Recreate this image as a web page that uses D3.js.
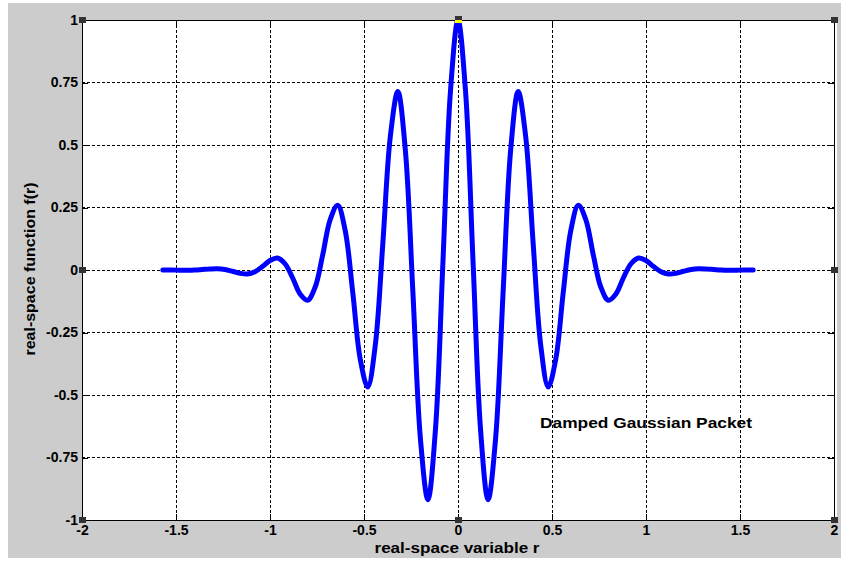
<!DOCTYPE html>
<html>
<head>
<meta charset="utf-8">
<script src="https://cdn.jsdelivr.net/npm/d3@7"></script>
<style>
  html, body { margin: 0; padding: 0; background: #ffffff; }
  svg { display: block; }
  text { font-family: "Liberation Sans", Arial, sans-serif; font-weight: bold; fill: #000; }
</style>
</head>
<body>
<svg id="chart" width="841" height="565"></svg>
<script>
// ---- data ----
const rValues = [
  -1.57, -1.56, -1.52, -1.48, -1.44, -1.40, -1.36, -1.32, -1.28, -1.24,
  -1.20, -1.16, -1.12, -1.08, -1.04, -1.00, -0.96, -0.92, -0.88, -0.84,
  -0.80, -0.76, -0.72, -0.68, -0.64, -0.60, -0.56, -0.52, -0.48, -0.44,
  -0.40, -0.36, -0.32, -0.28, -0.24, -0.20, -0.16, -0.12, -0.08, -0.04,
   0.00,
   0.04,  0.08,  0.12,  0.16,  0.20,  0.24,  0.28,  0.32,  0.36,  0.40,
   0.44,  0.48,  0.52,  0.56,  0.60,  0.64,  0.68,  0.72,  0.76,  0.80,
   0.84,  0.88,  0.92,  0.96,  1.00,  1.04,  1.08,  1.12,  1.16,  1.20,
   1.24,  1.28,  1.32,  1.36,  1.40,  1.44,  1.48,  1.52,  1.56,  1.57
];
const fValues = [
   0.000,  0.000, -0.000, -0.001, -0.001, -0.000,  0.002,  0.004,  0.005,  0.002,
  -0.005, -0.013, -0.016, -0.007,  0.014,  0.038,  0.048,  0.025, -0.031, -0.096,
  -0.121, -0.069,  0.059,  0.201,  0.259,  0.158, -0.088, -0.357, -0.468, -0.301,
   0.104,  0.534,  0.714,  0.479, -0.087, -0.674, -0.919, -0.639,  0.034,  0.716,
   1.000,
   0.716,  0.034, -0.639, -0.919, -0.674, -0.087,  0.479,  0.714,  0.534,  0.104,
  -0.301, -0.468, -0.357, -0.088,  0.158,  0.259,  0.201,  0.059, -0.069, -0.121,
  -0.096, -0.031,  0.025,  0.048,  0.038,  0.014, -0.007, -0.016, -0.013, -0.005,
   0.002,  0.005,  0.004,  0.002, -0.000, -0.001, -0.001, -0.000,  0.000,  0.000
];
const xTicks = [-2, -1.5, -1, -0.5, 0, 0.5, 1, 1.5, 2];
const xTickLabels = ["-2", "-1.5", "-1", "-0.5", "0", "0.5", "1", "1.5", "2"];
const yTicks = [-1, -0.75, -0.5, -0.25, 0, 0.25, 0.5, 0.75, 1];
const yTickLabels = ["-1", "-0.75", "-0.5", "-0.25", "0", "0.25", "0.5", "0.75", "1"];
const xLabel = "real-space variable r";
const yLabel = "real-space function f(r)";
const annotation = "Damped Gaussian Packet";

// ---- layout ----
const svg = d3.select("#chart");
const plot = { left: 82, top: 20, right: 834, bottom: 520 };

svg.append("rect").attr("x", 8).attr("y", 3).attr("width", 833).attr("height", 555)
  .attr("fill", "#cccccc");
svg.append("rect").attr("x", plot.left).attr("y", plot.top)
  .attr("width", plot.right - plot.left + 3).attr("height", plot.bottom - plot.top)
  .attr("fill", "#ffffff");

const x = d3.scaleLinear().domain([-2, 2]).range([plot.left, plot.right]);
const y = d3.scaleLinear().domain([-1, 1]).range([plot.bottom, plot.top]);

// grid
const grid = svg.append("g").attr("stroke", "#000").attr("stroke-width", 1)
  .attr("stroke-dasharray", "3,2").attr("shape-rendering", "crispEdges");
grid.selectAll("line.v").data(xTicks.slice(1, -1)).join("line")
  .attr("x1", d => x(d)).attr("x2", d => x(d)).attr("y1", plot.top).attr("y2", plot.bottom);
grid.selectAll("line.h").data(yTicks.slice(1, -1)).join("line").attr("class", "h")
  .attr("x1", plot.left).attr("x2", plot.right).attr("y1", d => y(d)).attr("y2", d => y(d));

// axes
function styleAxis(g) {
  g.selectAll("path, line").attr("stroke", "#000").attr("shape-rendering", "crispEdges");
  g.selectAll("text").attr("font-size", "14px").attr("font-family", "Liberation Sans, Arial, sans-serif")
    .attr("font-weight", "bold").attr("fill", "#000");
}
svg.append("g").attr("transform", `translate(0,${plot.bottom})`)
  .call(d3.axisBottom(x).tickValues(xTicks).tickFormat((d, i) => xTickLabels[i])
    .tickSizeInner(-6).tickSizeOuter(0).tickPadding(5))
  .call(styleAxis);
svg.append("g").attr("transform", `translate(${plot.left},0)`)
  .call(d3.axisLeft(y).tickValues(yTicks).tickFormat((d, i) => yTickLabels[i])
    .tickSizeInner(-6).tickSizeOuter(0).tickPadding(4))
  .call(styleAxis);
svg.append("g").attr("transform", `translate(0,${plot.top})`)
  .call(d3.axisTop(x).tickValues(xTicks).tickFormat("").tickSizeInner(-6).tickSizeOuter(0))
  .call(styleAxis);
svg.append("g").attr("transform", `translate(${plot.right},0)`)
  .call(d3.axisRight(y).tickValues(yTicks).tickFormat("").tickSizeInner(-6).tickSizeOuter(0))
  .call(styleAxis);

// curve
const pts = rValues.map((r, i) => [r, fValues[i]]);
svg.append("path").datum(pts)
  .attr("d", d3.line().x(d => x(d[0])).y(d => y(d[1])).curve(d3.curveCatmullRom.alpha(0.5)))
  .attr("fill", "none").attr("stroke", "#0000ff").attr("stroke-width", 5)
  .attr("stroke-linejoin", "round").attr("stroke-linecap", "round");

// selection handles
const handles = [[-2, 1], [-2, 0], [-2, -1], [0, -1], [2, -1], [2, 0], [2, 1], [0, 1]];
svg.append("rect").attr("x", x(0) - 3).attr("y", y(1)).attr("width", 7).attr("height", 3)
  .attr("fill", "#ffff00");
svg.selectAll("rect.handle").data(handles).join("rect").attr("class", "handle")
  .attr("x", d => x(d[0]) - 3).attr("y", d => y(d[1]) - 3 - (d[1] === 1 && d[0] === 0 ? 1 : 0))
  .attr("width", 7).attr("height", d => (d[1] === 1 && d[0] === 0) ? 4 : 6)
  .attr("fill", "#333333");

// labels
svg.append("text").attr("x", x(0) - 1).attr("y", 553).attr("text-anchor", "middle")
  .attr("font-size", "14px").attr("textLength", 165).attr("lengthAdjust", "spacingAndGlyphs")
  .text(xLabel);
svg.append("text").attr("transform", `translate(35,${y(0) - 1}) rotate(-90)`)
  .attr("text-anchor", "middle").attr("font-size", "14px")
  .attr("textLength", 173).attr("lengthAdjust", "spacingAndGlyphs").text(yLabel);
svg.append("text").attr("x", 540).attr("y", 428).attr("font-size", "14px")
  .attr("textLength", 212).attr("lengthAdjust", "spacingAndGlyphs").text(annotation);
</script>
</body>
</html>
